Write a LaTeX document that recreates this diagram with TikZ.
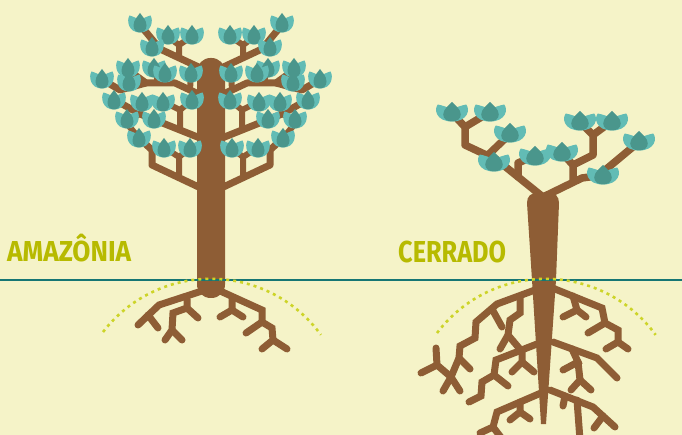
\documentclass[tikz,border=0pt]{standalone}
\usepackage{fontspec}
\usepackage{graphicx}
\newfontfamily\labelfont{Fira Sans}
\definecolor{paper}{RGB}{245,243,200}
\definecolor{bark}{RGB}{142,93,53}
\definecolor{petal}{RGB}{98,188,181}
\definecolor{petalcore}{RGB}{74,150,140}
\definecolor{groundline}{RGB}{22,118,116}
\definecolor{labelgreen}{RGB}{183,186,0}
\definecolor{dotgreen}{RGB}{205,212,40}

\tikzset{
  leaf/.pic={
    \fill[petal] (-10.5,-7.5) .. controls (-7,-6.5) and (-3,-5) .. (0,-2)
      .. controls (3,-5) and (7,-6.5) .. (10.5,-7.5)
      .. controls (13.5,-3) and (12,9.5) .. (0,9.5)
      .. controls (-12,9.5) and (-13.5,-3) .. cycle;
    \fill[petalcore] (0,-10) .. controls (2,-7) and (6.5,-3) .. (6.5,2.5)
      .. controls (6.5,7) and (3.5,9.5) .. (0,9.5)
      .. controls (-3.5,9.5) and (-6.5,7) .. (-6.5,2.5)
      .. controls (-6.5,-3) and (-2,-7) .. cycle;
  },
  limb/.style={draw=bark, line width=7pt, line cap=round, line join=round},
  twig/.style={draw=bark, line width=6pt, line cap=round, line join=round},
  rootline/.style={draw=bark, line width=7pt, line cap=round, line join=miter},
  ground/.style={draw=groundline, line width=2pt},
  dotarc/.style={draw=dotgreen, line width=2.6pt, dash pattern=on 3pt off 4pt},
  biglabel/.style={anchor=south west, inner sep=0pt, text=labelgreen},
  wideleaf/.style={xscale=1.35, yscale=1.0}
}

% one half of the rainforest crown (mirrored for the other half)
\newcommand\amazbranches{%
  \draw[limb] (205,70) -- (160,49) -- (141,26);
  \draw[limb] (205,97) -- (175,83) -- (146,83) -- (128,70);
  \draw[limb] (146,83) -- (120,90) -- (103,80);
  \draw[limb] (205,140) -- (140,114) -- (115,100);
  \draw[limb] (205,190) -- (152,165) -- (152,150) -- (139,138);
  \draw[twig] (179,58) -- (179,45) -- (168,37);
  \draw[twig] (179,45) -- (191,37);
  \draw[twig] (190,90) -- (191,73);
  \draw[twig] (166,83) -- (165,73);
  \draw[twig] (158,83) -- (155,68);
  \draw[twig] (180,130) -- (180,110) -- (164,102);
  \draw[twig] (180,110) -- (192,100);
  \draw[twig] (140,114) -- (142,102);
  \draw[twig] (140,114) -- (128,119);
  \draw[twig] (179,177) -- (179,157) -- (165,148);
  \draw[twig] (179,157) -- (190,148);
  \draw[twig] (139,138) -- (128,125) -- (127,119);
}
\newcommand\amazleaves{%
  \foreach \lx/\ly in {140/23,168/35,192/35,152/47,128/68,154/68,165/73,
      191/73,102/79,129/82,114/100,142/102,163/102,192/100,127/119,
      154/119,139/138,164/148,190/148}
    \pic at (\lx,\ly) {leaf};
}

\begin{document}
\begin{tikzpicture}[x=1pt, y=-1pt]
  \useasboundingbox (0,0) rectangle (682,435);
  \fill[paper] (0,0) rectangle (682,435);

  % ---------- rainforest tree ----------
  \amazbranches
  \begin{scope}[shift={(422,0)}, xscale=-1]
    \amazbranches
  \end{scope}
  % roots
  \draw[rootline] (205,290) -- (159,305) -- (138,325);
  \draw[rootline] (148,315) -- (158,328);
  \draw[rootline] (187,299) -- (187,308) -- (198,318);
  \draw[rootline] (187,308) -- (173,313) -- (172,330) -- (165,340);
  \draw[rootline] (172,330) -- (182,340);
  \draw[rootline] (218,290) -- (262,310) -- (262,322) -- (272,328) -- (273,340) -- (262,349);
  \draw[rootline] (273,340) -- (287,349);
  \draw[rootline] (262,322) -- (246,333);
  \draw[rootline] (232,299) -- (232,310) -- (220,317);
  \draw[rootline] (232,310) -- (243,317);
  % trunk
  \fill[bark, rounded corners=13.5pt] (197,58) rectangle (225,298);
  \node[inner sep=0pt] (amztrunk) at (211,178) {};
  \amazleaves
  \begin{scope}[shift={(422,0)}, xscale=-1]
    \amazleaves
  \end{scope}

  % ---------- savanna tree ----------
  % crown
  \draw[limb, line width=7.5pt] (543,197) -- (497,160) -- (465,145) -- (465,127) -- (452,113);
  \draw[limb, line width=7.5pt] (465,127) -- (490,112);
  \draw[limb, line width=7.5pt] (489,154) -- (510,134);
  \draw[limb, line width=7.5pt] (518,177) -- (518,163) -- (534,156);
  \draw[limb, line width=7.5pt] (543,197) -- (582,178) -- (604,175);
  \draw[limb, line width=7.5pt] (598,176) -- (640,141);
  \draw[limb, line width=7.5pt] (573,182) -- (573,165) -- (562,153);
  \draw[limb, line width=7.5pt] (573,165) -- (593,155) -- (593,135) -- (580,122);
  \draw[limb, line width=7.5pt] (593,135) -- (612,121);
  % roots, left side
  \draw[rootline] (535,290) -- (497,304) -- (476,322) -- (475,338) -- (460,346) -- (459,358) -- (451,377) -- (443,391);
  \draw[rootline] (451,377) -- (460,391);
  \draw[rootline] (451,377) -- (437,365) -- (436,348);
  \draw[rootline] (437,365) -- (421,373);
  \draw[rootline] (459,358) -- (470,369);
  \draw[rootline] (520,297) -- (520,313) -- (510,320) -- (508,335) -- (500,349);
  \draw[rootline] (508,335) -- (519,348);
  \draw[rootline] (492,309) -- (502,327);
  \draw[rootline] (537,344) -- (496,360) -- (494,375) -- (482,382) -- (481,396) -- (469,402);
  \draw[rootline] (494,375) -- (508,386);
  \draw[rootline] (522,350) -- (522,362) -- (512,372);
  \draw[rootline] (522,362) -- (534,372);
  \draw[rootline] (541,393) -- (497,412) -- (493,427) -- (480,433);
  \draw[rootline] (520,402) -- (520,412) -- (510,420);
  \draw[rootline] (520,412) -- (530,419);
  \draw[rootline] (493,427) -- (503,440);
  % roots, right side
  \draw[rootline] (550,287) -- (602,308) -- (605,323) -- (618,330) -- (618,342) -- (606,349);
  \draw[rootline] (618,342) -- (628,349);
  \draw[rootline] (573,296) -- (577,310) -- (563,317);
  \draw[rootline] (577,310) -- (586,317);
  \draw[rootline] (605,323) -- (588,333);
  \draw[rootline] (553,342) -- (597,358) -- (617,378);
  \draw[rootline] (572,349) -- (578,362) -- (563,370);
  \draw[rootline] (578,362) -- (580,380) -- (571,390);
  \draw[rootline] (580,380) -- (591,390);
  \draw[rootline] (550,390) -- (593,407) -- (615,427);
  \draw[rootline] (565,396) -- (563,406);
  \draw[rootline] (577,400) -- (580,440);
  \draw[rootline] (603,416) -- (594,428);
  % trunk and taproot
  \fill[bark] (532,280) -- (527,203) .. controls (527,196) and (531,193) .. (537,193)
    -- (549,193) .. controls (555,193) and (559,196) .. (559,203)
    -- (556,280) -- (546,424) -- (541,424) -- cycle;
  \node[inner sep=0pt] (cerrtrunk) at (543,240) {};
  \foreach \lx/\ly in {452/112,490/112,510/133,494/162,535/156,
      562/152,580/121,612/121,639/141,603/175}
    \pic[wideleaf] at (\lx,\ly) {leaf};

  % ---------- ground line and root spread ----------
  \coordinate (gl) at (0,280);
  \coordinate (gr) at (682,280);
  \draw[ground] (gl) -- (gr);
  \coordinate (amzarc) at (103,332);
  \coordinate (cerarc) at (437,333);
  \draw[dotarc] (amzarc) arc[start angle=-142.5, end angle=-36, radius=136];
  \draw[dotarc] (cerarc) arc[start angle=-143, end angle=-36, radius=136];

  % ---------- labels ----------
  \node[biglabel] (amzlabel) at (7,262)
    {\resizebox{124pt}{20pt}{\labelfont\bfseries\raisebox{0pt}[\fontcharht\font`A][0pt]{AMAZÔNIA}}};
  \node[biglabel] (cerlabel) at (398,263)
    {\resizebox{108pt}{21pt}{\labelfont\bfseries\raisebox{0pt}[\fontcharht\font`A][0pt]{CERRADO}}};
\end{tikzpicture}
\end{document}
